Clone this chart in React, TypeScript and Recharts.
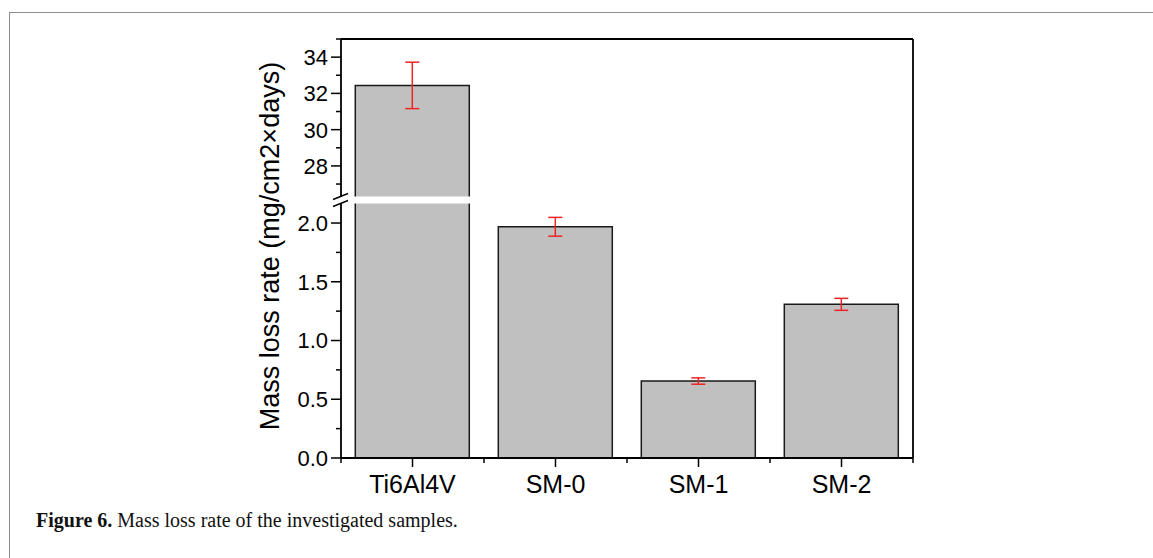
import React from "react";
import { BarChart, Bar, XAxis, YAxis, ErrorBar } from "recharts";

// ---------- data ----------
const categories = ["Ti6Al4V", "SM-0", "SM-1", "SM-2"];
const massLossRate = [32.44, 1.968, 0.655, 1.308];
const errorValues = [1.28, 0.08, 0.027, 0.051];
const upperMajorTicks = [28, 30, 32, 34];
const upperMinorTicks = [27, 29, 31, 33, 35];
const lowerMajorTicks = [0, 0.5, 1.0, 1.5, 2.0];
const lowerMinorTicks = [0.25, 0.75, 1.25, 1.75];
const upperDomain: [number, number] = [26.12, 35];
const lowerDomain: [number, number] = [0, 2.196];
const yAxisLabel = "Mass loss rate (mg/cm2\u00d7days)";
const captionBold = "Figure 6.";
const captionText = " Mass loss rate of the investigated samples.";

const data = categories.map((name, i) => ({
  name,
  value: massLossRate[i],
  err: errorValues[i],
}));

// ---------- layout ----------
const W = 1153;
const H = 558;
const PLOT_LEFT = 341;
const PLOT_RIGHT = 913;
const PLOT_TOP = 39;
const BREAK_Y = 200;
const PLOT_BOTTOM = 458;
const Y_AXIS_W = 60;
const X_AXIS_H = 40;
const LOWER_H = 520;
const UPPER_H = BREAK_Y + 10;
const PLOT_W = PLOT_RIGHT - PLOT_LEFT;

const SANS = "'Liberation Sans', Arial, sans-serif";
const SERIF = "'Liberation Serif', 'Times New Roman', serif";
const AXIS_STROKE = "#000";
const AXIS_W = 1.8;
const BAR_FILL = "#c0c0c0";
const BAR_STROKE = "#1a1a1a";
const ERR_COLOR = "#f02424";

const makeYTick = (majors: number[], fmt: (v: number) => string) => (props: any) => {
  const { x, y, payload } = props;
  const v = payload.value;
  const isMajor = majors.includes(v);
  const len = isMajor ? 10 : 5;
  return (
    <g>
      <line x1={x - len} y1={y} x2={x} y2={y} stroke={AXIS_STROKE} strokeWidth={1.5} />
      {isMajor && (
        <text
          x={x - 13}
          y={y}
          dy="0.36em"
          textAnchor="end"
          fontSize={22}
          fontFamily={SANS}
          fill="#000"
        >
          {fmt(v)}
        </text>
      )}
    </g>
  );
};

const XTick = (props: any) => {
  const { x, y, payload } = props;
  const bw = PLOT_W / categories.length;
  const isLast = payload.value === categories[categories.length - 1];
  return (
    <g>
      <line x1={x} y1={y} x2={x} y2={y + 9} stroke={AXIS_STROKE} strokeWidth={1.5} />
      <line x1={x - bw / 2} y1={y} x2={x - bw / 2} y2={y + 5} stroke={AXIS_STROKE} strokeWidth={1.5} />
      {isLast && (
        <line x1={x + bw / 2} y1={y} x2={x + bw / 2} y2={y + 5} stroke={AXIS_STROKE} strokeWidth={1.5} />
      )}
      <text x={x} y={y + 35} textAnchor="middle" fontSize={25} fontFamily={SANS} fill="#000">
        {payload.value}
      </text>
    </g>
  );
};

const upperTick = makeYTick(upperMajorTicks, (v) => String(v));
const lowerTick = makeYTick(lowerMajorTicks, (v) => v.toFixed(1));

export default function App() {
  return (
    <div
      style={{
        position: "relative",
        width: W,
        height: H,
        overflow: "hidden",
        background: "#fff",
      }}
    >
      <style>{"body{margin:0}"}</style>
      {/* figure frame */}
      <div
        style={{
          position: "absolute",
          left: 9,
          top: 12,
          width: W,
          height: H,
          borderTop: "1.5px solid #8c8c8c",
          borderLeft: "1.5px solid #8c8c8c",
        }}
      />
      {/* upper panel */}
      <div style={{ position: "absolute", left: 0, top: 0 }}>
        <BarChart
          width={W}
          height={UPPER_H}
          data={data}
          barCategoryGap="10%"
          margin={{ top: PLOT_TOP, right: W - PLOT_RIGHT, bottom: UPPER_H - BREAK_Y, left: PLOT_LEFT - Y_AXIS_W }}
        >
          <XAxis dataKey="name" type="category" hide />
          <YAxis
            type="number"
            domain={upperDomain}
            allowDataOverflow
            ticks={[...upperMinorTicks, ...upperMajorTicks].sort((a, b) => a - b)}
            interval={0}
            tick={upperTick}
            tickLine={false}
            tickSize={0}
            tickMargin={0}
            axisLine={{ stroke: AXIS_STROKE, strokeWidth: AXIS_W }}
            width={Y_AXIS_W}
          />
          <Bar
            dataKey={(d: any) => (d.value >= upperDomain[0] ? d.value : null)}
            fill={BAR_FILL}
            stroke={BAR_STROKE}
            strokeWidth={1.5}
            isAnimationActive={false}
          >
            <ErrorBar
              dataKey={(d: any) => (d.value >= upperDomain[0] ? d.err : null)}
              width={7}
              stroke={ERR_COLOR}
              strokeWidth={1.5}
              direction="y"
              isAnimationActive={false}
            />
          </Bar>
        </BarChart>
      </div>
      {/* lower panel */}
      <div style={{ position: "absolute", left: 0, top: 0 }}>
        <BarChart
          width={W}
          height={LOWER_H}
          data={data}
          barCategoryGap="10%"
          margin={{
            top: BREAK_Y,
            right: W - PLOT_RIGHT,
            bottom: LOWER_H - PLOT_BOTTOM - X_AXIS_H,
            left: PLOT_LEFT - Y_AXIS_W,
          }}
        >
          <XAxis
            dataKey="name"
            type="category"
            interval={0}
            tick={<XTick />}
            tickLine={false}
            tickSize={0}
            tickMargin={0}
            axisLine={{ stroke: AXIS_STROKE, strokeWidth: AXIS_W }}
            height={X_AXIS_H}
          />
          <YAxis
            type="number"
            domain={lowerDomain}
            allowDataOverflow
            ticks={[...lowerMinorTicks, ...lowerMajorTicks].sort((a, b) => a - b)}
            interval={0}
            tick={lowerTick}
            tickLine={false}
            tickSize={0}
            tickMargin={0}
            axisLine={{ stroke: AXIS_STROKE, strokeWidth: AXIS_W }}
            width={Y_AXIS_W}
          />
          <Bar dataKey="value" fill={BAR_FILL} stroke={BAR_STROKE} strokeWidth={1.5} isAnimationActive={false}>
            <ErrorBar
              dataKey={(d: any) => (d.value <= lowerDomain[1] ? d.err : null)}
              width={7}
              stroke={ERR_COLOR}
              strokeWidth={1.5}
              direction="y"
              isAnimationActive={false}
            />
          </Bar>
        </BarChart>
      </div>
      {/* overlay: frame, axis break, labels */}
      <svg
        width={W}
        height={H}
        style={{ position: "absolute", left: 0, top: 0, pointerEvents: "none" }}
      >
        <line x1={PLOT_LEFT} y1={PLOT_TOP} x2={PLOT_RIGHT} y2={PLOT_TOP} stroke={AXIS_STROKE} strokeWidth={AXIS_W} />
        <line x1={PLOT_RIGHT} y1={PLOT_TOP} x2={PLOT_RIGHT} y2={PLOT_BOTTOM} stroke={AXIS_STROKE} strokeWidth={AXIS_W} />
        <rect x={330} y={BREAK_Y - 3.5} width={PLOT_RIGHT - 1 - 330} height={7} fill="#fff" />
        <line x1={333} y1={BREAK_Y - 0.5} x2={348} y2={BREAK_Y - 6.5} stroke={AXIS_STROKE} strokeWidth={1.5} />
        <line x1={333} y1={BREAK_Y + 6.5} x2={348} y2={BREAK_Y + 0.5} stroke={AXIS_STROKE} strokeWidth={1.5} />
        <text
          x={279}
          y={246}
          transform="rotate(-90, 279, 246)"
          textAnchor="middle"
          fontSize={27}
          fontFamily={SANS}
          fill="#000"
        >
          {yAxisLabel}
        </text>
        <text x={36} y={527} fontSize={20} fontFamily={SERIF} fill="#111">
          <tspan fontWeight="bold">{captionBold}</tspan>
          <tspan>{captionText}</tspan>
        </text>
      </svg>
    </div>
  );
}
